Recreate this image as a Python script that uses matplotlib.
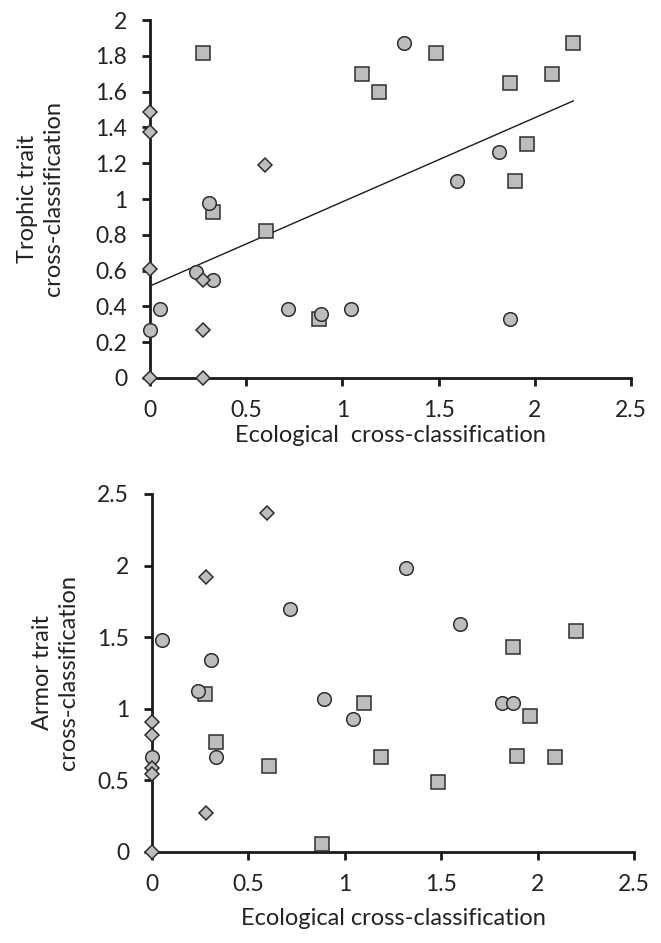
import matplotlib
matplotlib.use('Agg')
from matplotlib import pyplot as plt
from matplotlib.ticker import FuncFormatter

plt.rcParams['font.family'] = ['Lato', 'DejaVu Sans']

# ecological cross-classification (x) per group
sq_x = [0.275, 0.33, 0.605, 0.88, 1.10, 1.19, 1.485, 1.87, 1.895, 1.96, 2.09, 2.20]
ci_x = [0.0, 0.053, 0.24, 0.307, 0.33, 0.715, 0.89, 1.045, 1.32, 1.595, 1.815, 1.87]

# trophic trait cross-classification
sq_troph = [1.815, 0.93, 0.82, 0.33, 1.70, 1.60, 1.815, 1.65, 1.10, 1.31, 1.70, 1.87]
ci_troph = [0.27, 0.385, 0.59, 0.975, 0.55, 0.385, 0.355, 0.385, 1.87, 1.10, 1.26, 0.33]
di_x_troph = [0.0, 0.0, 0.0, 0.0, 0.275, 0.275, 0.275, 0.598]
di_troph = [1.485, 1.375, 0.61, 0.0, 0.55, 0.27, 0.0, 1.19]

# armor trait cross-classification
sq_armor = [1.10, 0.77, 0.60, 0.055, 1.04, 0.66, 0.49, 1.43, 0.67, 0.95, 0.66, 1.54]
ci_armor = [0.66, 1.48, 1.125, 1.34, 0.66, 1.70, 1.07, 0.93, 1.98, 1.59, 1.04, 1.04]
di_x_armor = [0.0, 0.0, 0.0, 0.0, 0.0, 0.28, 0.28, 0.596]
di_armor = [0.91, 0.82, 0.59, 0.545, 0.0, 1.92, 0.27, 2.37]

# fitted line in the trophic panel
fit_x = [0.0, 2.2]
fit_intercept = 0.514
fit_slope = 0.47

face = '#bdbdbd'
edge = '#2e2e2e'
txt = '#222222'


def style_axes(ax, ymax, ystep):
    ax.set_xlim(0, 2.5)
    ax.set_ylim(0, ymax)
    ax.set_xticks([0, 0.5, 1, 1.5, 2, 2.5])
    ax.set_yticks([round(i * ystep, 2) for i in range(int(round(ymax / ystep)) + 1)])
    fmt = FuncFormatter(lambda v, p: '%g' % v)
    ax.xaxis.set_major_formatter(fmt)
    ax.yaxis.set_major_formatter(fmt)
    for s in ['top', 'right']:
        ax.spines[s].set_visible(False)
    for s in ['left', 'bottom']:
        ax.spines[s].set_linewidth(2.0)
        ax.spines[s].set_color('#1a1a1a')
    ax.tick_params(axis='both', direction='out', length=5.5, width=2.0,
                   color='#1a1a1a', labelsize=16.5, labelcolor=txt)
    ax.tick_params(axis='y', pad=11)
    ax.tick_params(axis='x', pad=10)


def draw_points(ax, sx, sy, cx, cy, dx, dy):
    ax.plot(sx, sy, 's', ms=9.8, mfc=face, mec=edge, mew=1.1, clip_on=False, zorder=3)
    ax.plot(cx, cy, 'o', ms=9.8, mfc=face, mec=edge, mew=1.1, clip_on=False, zorder=4)
    ax.plot(dx, dy, 'D', ms=7.6, mfc=face, mec=edge, mew=1.1, clip_on=False, zorder=5)


fig = plt.figure(figsize=(6.61, 9.43), dpi=100)

ax1 = fig.add_axes([150 / 661, 1 - 378 / 943, 481 / 661, 358 / 943])
fit_y = [fit_intercept + fit_slope * v for v in fit_x]
ax1.plot(fit_x, fit_y, color='#1a1a1a', lw=1.0, zorder=2)
draw_points(ax1, sq_x, sq_troph, ci_x, ci_troph, di_x_troph, di_troph)
style_axes(ax1, 2.0, 0.2)
ax1.set_xlabel('Ecological  cross-classification', fontsize=17, color=txt)
ax1.xaxis.set_label_coords(0.5, -0.162)
ax1.xaxis.label.set_va('center')
ax1.set_ylabel('Trophic trait\ncross-classification', fontsize=17, color=txt,
               linespacing=1.3)
ax1.yaxis.set_label_coords(-0.228, 0.5)
ax1.yaxis.label.set_va('center')

ax2 = fig.add_axes([152 / 661, 1 - 852 / 943, 482 / 661, 358 / 943])
draw_points(ax2, sq_x, sq_armor, ci_x, ci_armor, di_x_armor, di_armor)
style_axes(ax2, 2.5, 0.5)
ax2.set_xlabel('Ecological cross-classification', fontsize=17, color=txt)
ax2.xaxis.set_label_coords(0.5, -0.185)
ax2.xaxis.label.set_va('center')
ax2.set_ylabel('Armor trait\ncross-classification', fontsize=17, color=txt,
               linespacing=1.3)
ax2.yaxis.set_label_coords(-0.2, 0.5)
ax2.yaxis.label.set_va('center')

fig.savefig('out.png', dpi=100)
